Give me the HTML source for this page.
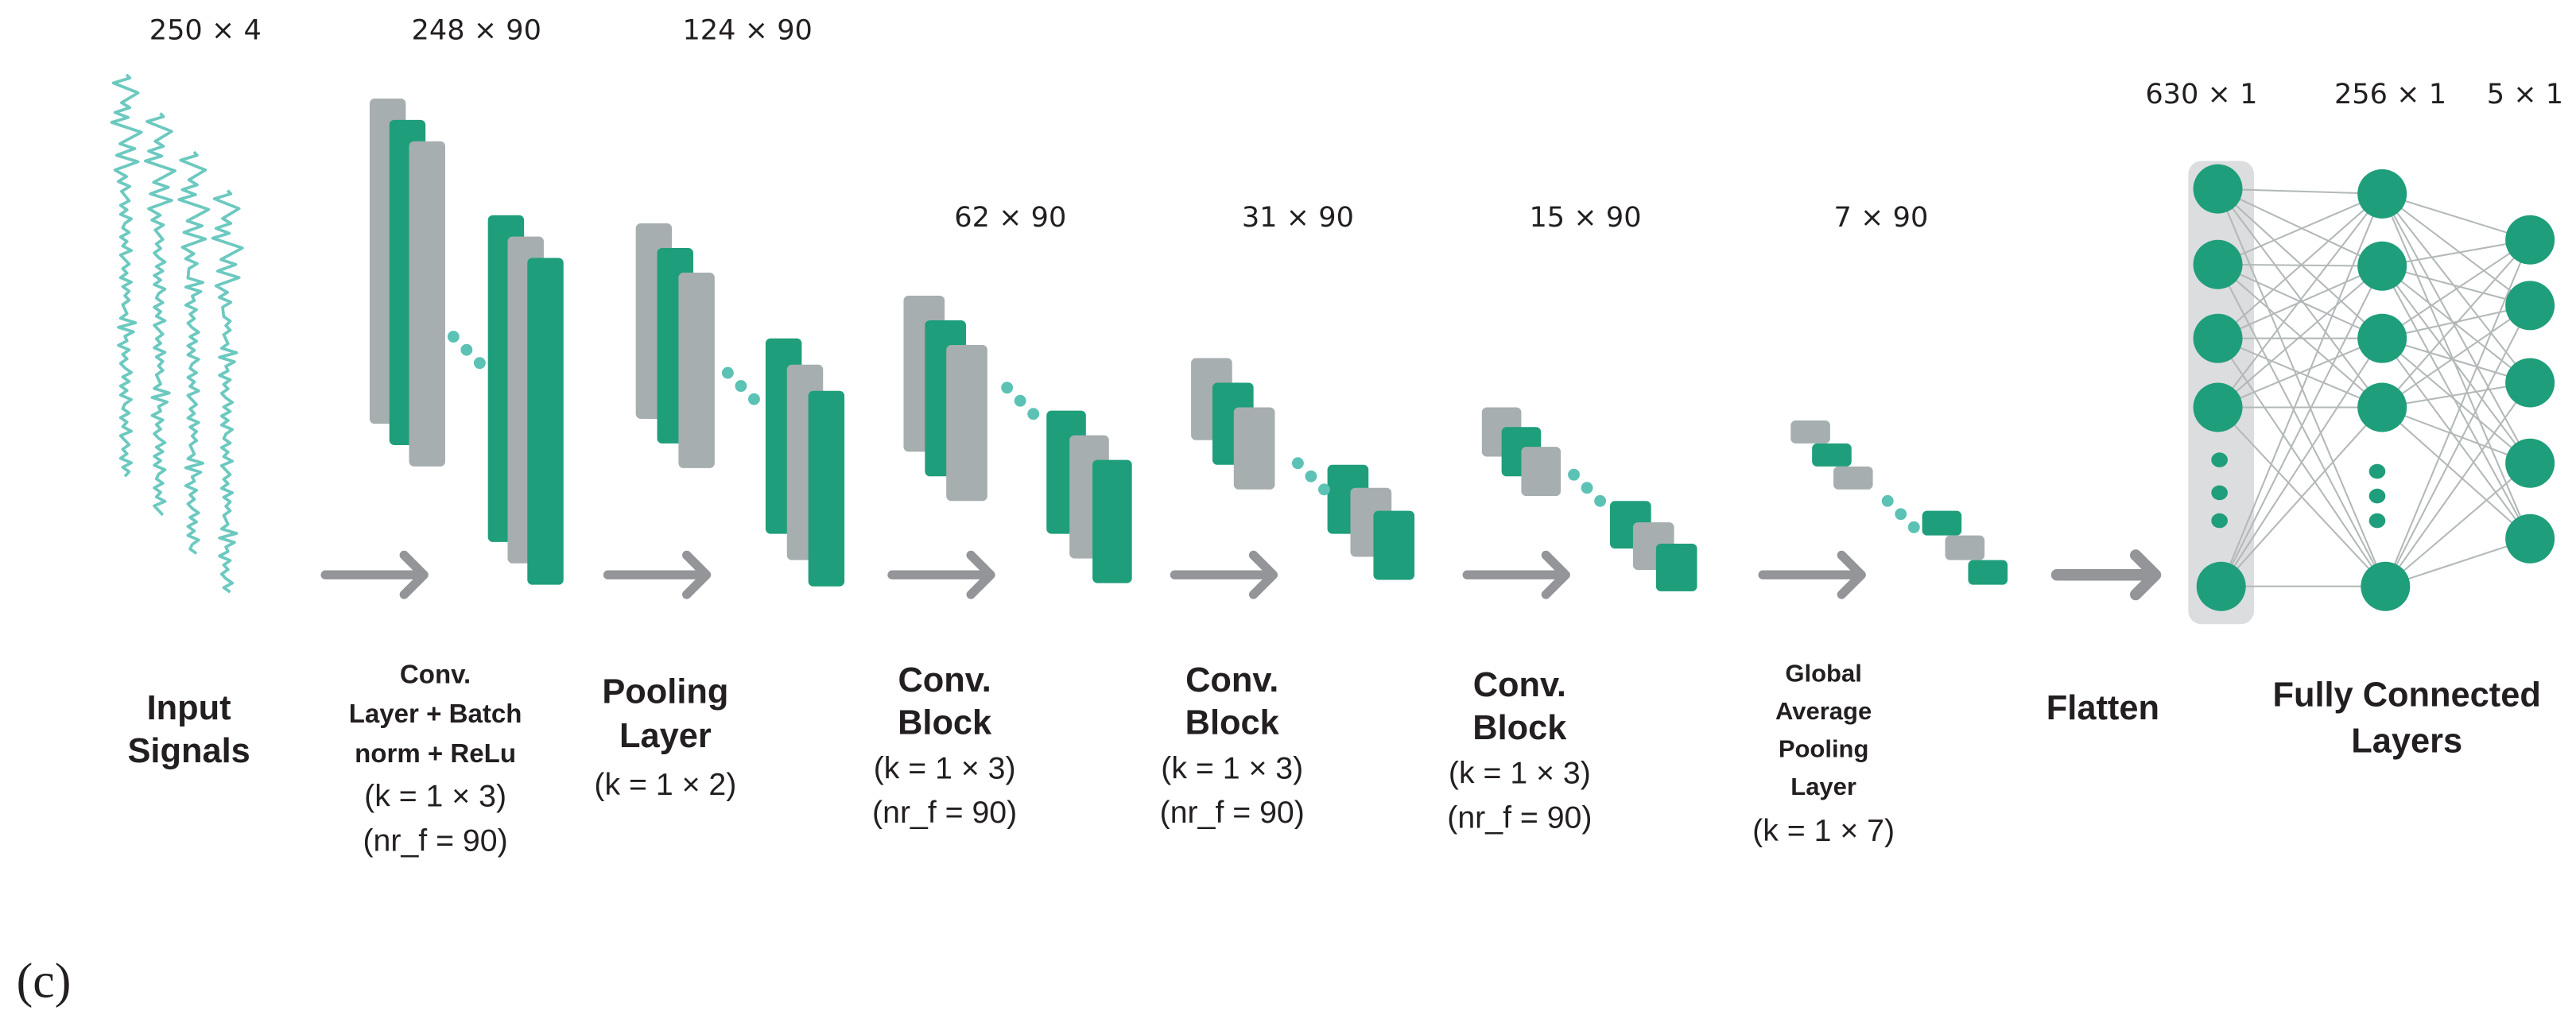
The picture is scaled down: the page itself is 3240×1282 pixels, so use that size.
<!DOCTYPE html>
<html><head><meta charset="utf-8">
<style>
html,body{margin:0;padding:0;background:#fff;}
svg{display:block;}
.dim{font-family:"DejaVu Sans","Liberation Sans",sans-serif;font-size:17px;fill:#231f20;text-anchor:middle;}
.b{font-family:"Liberation Sans Narrow","Liberation Sans",sans-serif;font-weight:bold;fill:#231f20;text-anchor:middle;}
.r{font-family:"Liberation Sans Narrow","Liberation Sans",sans-serif;fill:#231f20;text-anchor:middle;font-size:19px;}
</style></head>
<body>
<svg width="3240" height="1282" viewBox="0 0 1568 620.4" xmlns="http://www.w3.org/2000/svg">
<g id="dims">
<text class="dim" x="125" y="24">250 × 4</text>
<text class="dim" x="290" y="24">248 × 90</text>
<text class="dim" x="455" y="24">124 × 90</text>
<text class="dim" x="615" y="138">62 × 90</text>
<text class="dim" x="790" y="138">31 × 90</text>
<text class="dim" x="965" y="138">15 × 90</text>
<text class="dim" x="1145" y="138">7 × 90</text>
<text class="dim" x="1340" y="63">630 × 1</text>
<text class="dim" x="1455" y="63">256 × 1</text>
<text class="dim" x="1537" y="63">5 × 1</text>
</g>
<g id="signals"></g>
<g id="blocks"></g>
<g id="arrows"></g>
<rect x="1332" y="98" width="40" height="282" rx="8" fill="#dcdddf"/>
<g id="edges"></g>
<g id="nodes"></g>
<g>
<text class="b" font-size="21" x="115" y="438"><tspan x="115">Input</tspan><tspan x="115" dy="26">Signals</tspan></text>
<text class="b" font-size="16" x="265" y="416"><tspan x="265">Conv.</tspan><tspan x="265" dy="24">Layer + Batch</tspan><tspan x="265" dy="24">norm + ReLu</tspan></text>
<text class="r" x="265" y="491">(k = 1 × 3)</text>
<text class="r" x="265" y="518">(nr_f = 90)</text>
<text class="b" font-size="21" x="405" y="428"><tspan x="405">Pooling</tspan><tspan x="405" dy="27">Layer</tspan></text>
<text class="r" x="405" y="484">(k = 1 × 2)</text>
<text class="b" font-size="21" x="575" y="421"><tspan x="575">Conv.</tspan><tspan x="575" dy="26">Block</tspan></text>
<text class="r" x="575" y="474">(k = 1 × 3)</text>
<text class="r" x="575" y="501">(nr_f = 90)</text>
<text class="b" font-size="21" x="750" y="421"><tspan x="750">Conv.</tspan><tspan x="750" dy="26">Block</tspan></text>
<text class="r" x="750" y="474">(k = 1 × 3)</text>
<text class="r" x="750" y="501">(nr_f = 90)</text>
<text class="b" font-size="21" x="925" y="424"><tspan x="925">Conv.</tspan><tspan x="925" dy="26">Block</tspan></text>
<text class="r" x="925" y="477">(k = 1 × 3)</text>
<text class="r" x="925" y="504">(nr_f = 90)</text>
<text class="b" font-size="15" x="1110" y="415"><tspan x="1110">Global</tspan><tspan x="1110" dy="23">Average</tspan><tspan x="1110" dy="23">Pooling</tspan><tspan x="1110" dy="23">Layer</tspan></text>
<text class="r" x="1110" y="512">(k = 1 × 7)</text>
<text class="b" font-size="21" x="1280" y="438">Flatten</text>
<text class="b" font-size="21" x="1465" y="430"><tspan x="1465">Fully Connected</tspan><tspan x="1465" dy="28">Layers</tspan></text>
<text x="10" y="607" font-family="Liberation Serif,serif" font-size="30" fill="#231f20">(c)</text>
</g>
</svg>
<script>
var NS="http://www.w3.org/2000/svg";
function mk(t,p,a){var e=document.createElementNS(NS,t);for(var k in a)e.setAttribute(k,a[k]);p.appendChild(e);return e;}
var G="#1f9e7b",S="#a6aeaf";
var groups=[
 [225,60,22,198,12,13,[S,G,S]],[297,131,22,199,12,13,[G,S,G]],
 [387,136,22,119,13,15,[S,G,S]],[466,206,22,119,13,16,[G,S,G]],
 [550,180,25,95,13,15,[S,G,S]],[637,250,24,75,14,15,[G,S,G]],
 [725,218,25,50,13,15,[S,G,S]],[808,283,25,42,14,14,[G,S,G]],
 [902,248,24,30,12,12,[S,G,S]],[980,305,25,29,14,13,[G,S,G]],
 [1090,256,24,14,13,14,[S,G,S]],[1170,311,24,15,14,15,[G,S,G]]];
var bl=document.getElementById('blocks');
groups.forEach(function(g,gi){for(var i=0;i<3;i++){var r=mk('rect',bl,{x:g[0]+i*g[4],y:g[1]+i*g[5],width:g[2],height:g[3],rx:3,fill:g[6][i]});

}});
var dotsets=[[276,205],[443,227],[613,236],[790,282],[958,289],[1149,305]];
dotsets.forEach(function(d,di){for(var i=0;i<3;i++){var c=mk('circle',bl,{cx:d[0]+i*8,cy:d[1]+i*8,r:3.6,fill:"#5cc2b5"});

}});
var arrowsX=[198,370,543,715,893,1073,1252];
var ar=document.getElementById('arrows');
arrowsX.forEach(function(x,i){var w=i==6?7:5.5;var p=mk('path',ar,{d:"M"+x+" 350 H"+(x+60)+" M"+(x+48)+" 338 L"+(x+60)+" 350 L"+(x+48)+" 362",stroke:"#939598","stroke-width":w,fill:"none","stroke-linecap":"round","stroke-linejoin":"round"});

});
// signals: vertical traces, bottom = start; spiky part at top
var wig=[0,2,-1,3,-2,1,-1,2,0,-2,3,-1,1,-2,2,-1,0,3,-2,1,-2,2,-1,3,0,-2,1,-1,2,-3,1,0,4,-3,5,-2,1,0,-1,2];
// spike section from bottom of spikes up to top: [dx, dy-step]
var spikes=[[-2,3],[3,3],[-4,3],[1,3],[-6,4],[8,5],[-5,4],[6,4],[-3,3],[10,7],[-8,6],[2,3],[-6,3],[3,3],[-2,3],[8,6],[-7,6],[3,3],[1,2]];
var sg=document.getElementById('signals');
for(var s=0;s<4;s++){var x0=76+s*20.5,yb=290+s*23.5,pts=[];
 for(var k=0;k<62;k++){var y=yb-k*2.75;var o=wig[(k+s*7)%wig.length]*1.3;pts.push((x0+o)+","+y);}
 var yc=yb-62*2.75;
 spikes.forEach(function(sp){yc-=sp[1];pts.push((x0+sp[0])+","+yc);});
 var pl=mk('polyline',sg,{points:pts.join(' '),fill:"none",stroke:"#6cc9c0","stroke-width":1.8,"stroke-linejoin":"round"});
 
 }
var L1=[[1350,115],[1350,161],[1350,206],[1350,248],[1352,357]];
var L2=[[1450,118],[1450,162],[1450,206],[1450,248],[1452,357]];
var L3=[[1540,146],[1540,186],[1540,233],[1540,282],[1540,328]];
var eg=document.getElementById('edges'),ng=document.getElementById('nodes');
function conn(A,B){A.forEach(function(a){B.forEach(function(b){var l=mk('line',eg,{x1:a[0],y1:a[1],x2:b[0],y2:b[1],stroke:"#b3b8b8","stroke-width":1});

});});}
conn(L1,L2);conn(L2,L3);
[L1,L2,L3].forEach(function(L,li){L.forEach(function(n){var e=mk('ellipse',ng,{cx:n[0],cy:n[1],rx:15,ry:15,fill:G});

});});
[[1351,280],[1351,300],[1351,317],[1447,287],[1447,302],[1447,317]].forEach(function(d){var e=mk('ellipse',ng,{cx:d[0],cy:d[1],rx:5,ry:4.5,fill:G});

});
</script>
</body></html>
